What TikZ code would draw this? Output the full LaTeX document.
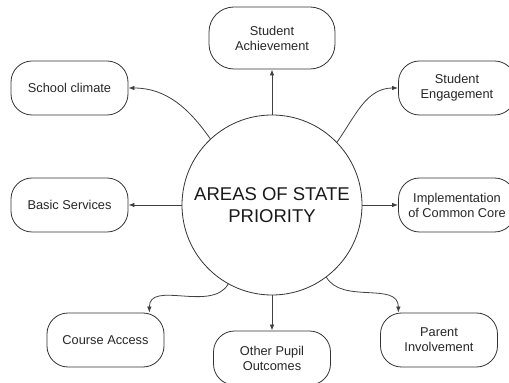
\documentclass[tikz,border=0pt]{standalone}
\usepackage{fontspec}
\setmainfont{Liberation Sans}
\usepackage{tikz}
\usetikzlibrary{arrows.meta}

\begin{document}
\begin{tikzpicture}[x=1pt,y=1pt]
			\tikzset{hub/.style = {shape=circle,draw=black!80,line width=0.8pt,
					minimum size=180pt,inner sep=0pt,align=center,text=black!90,
					font=\fontsize{18.5}{21.6}\selectfont}}
			\tikzset{area/.style = {shape=rectangle,draw=black!80,line width=0.8pt,
					rounded corners=21pt,minimum width=117pt,minimum height=54pt,
					inner sep=0pt,align=center,text=black!85,
					font=\fontsize{12.8}{15}\selectfont}}
			\tikzset{edge/.style = {-{Latex[length=6pt,width=4.5pt]},
					draw=black!75,line width=0.8pt}}
			
			\useasboundingbox (0,0) rectangle (509,383);
			
			% vertices
			\node[hub] (hub) at (272,178) {AREAS OF STATE\\PRIORITY};
			\node[area,minimum width=126pt,minimum height=62pt,rounded corners=25pt]
					(ach) at (272,345) {Student\\Achievement};
			\node[area] (clim) at (69.5,295) {School climate};
			\node[area] (eng) at (457,295) {Student\\Engagement};
			\node[area] (basic) at (69.5,178) {Basic Services};
			\node[area] (impl) at (457,178) {Implementation\\of Common Core};
			\node[area] (course) at (105.5,43) {Course Access};
			\node[area] (other) at (272,25) {Other Pupil\\Outcomes};
			\node[area] (parent) at (439,43) {Parent\\Involvement};
			
			%edges
			\draw[edge] (hub) to (ach);
			\draw[edge] (hub) to (basic);
			\draw[edge] (hub) to (impl);
			\draw[edge] (hub) to (other);
			\draw[edge] (hub.133) to[out=125,in=0] (clim.east);
			\draw[edge] (hub.44) to[out=55,in=180] (eng.west);
			\draw[edge] (hub.241) to[out=240,in=90] (course.32);
			\draw[edge] (hub.307) to[out=-60,in=90] (parent.146);
			
\end{tikzpicture}
\end{document}
